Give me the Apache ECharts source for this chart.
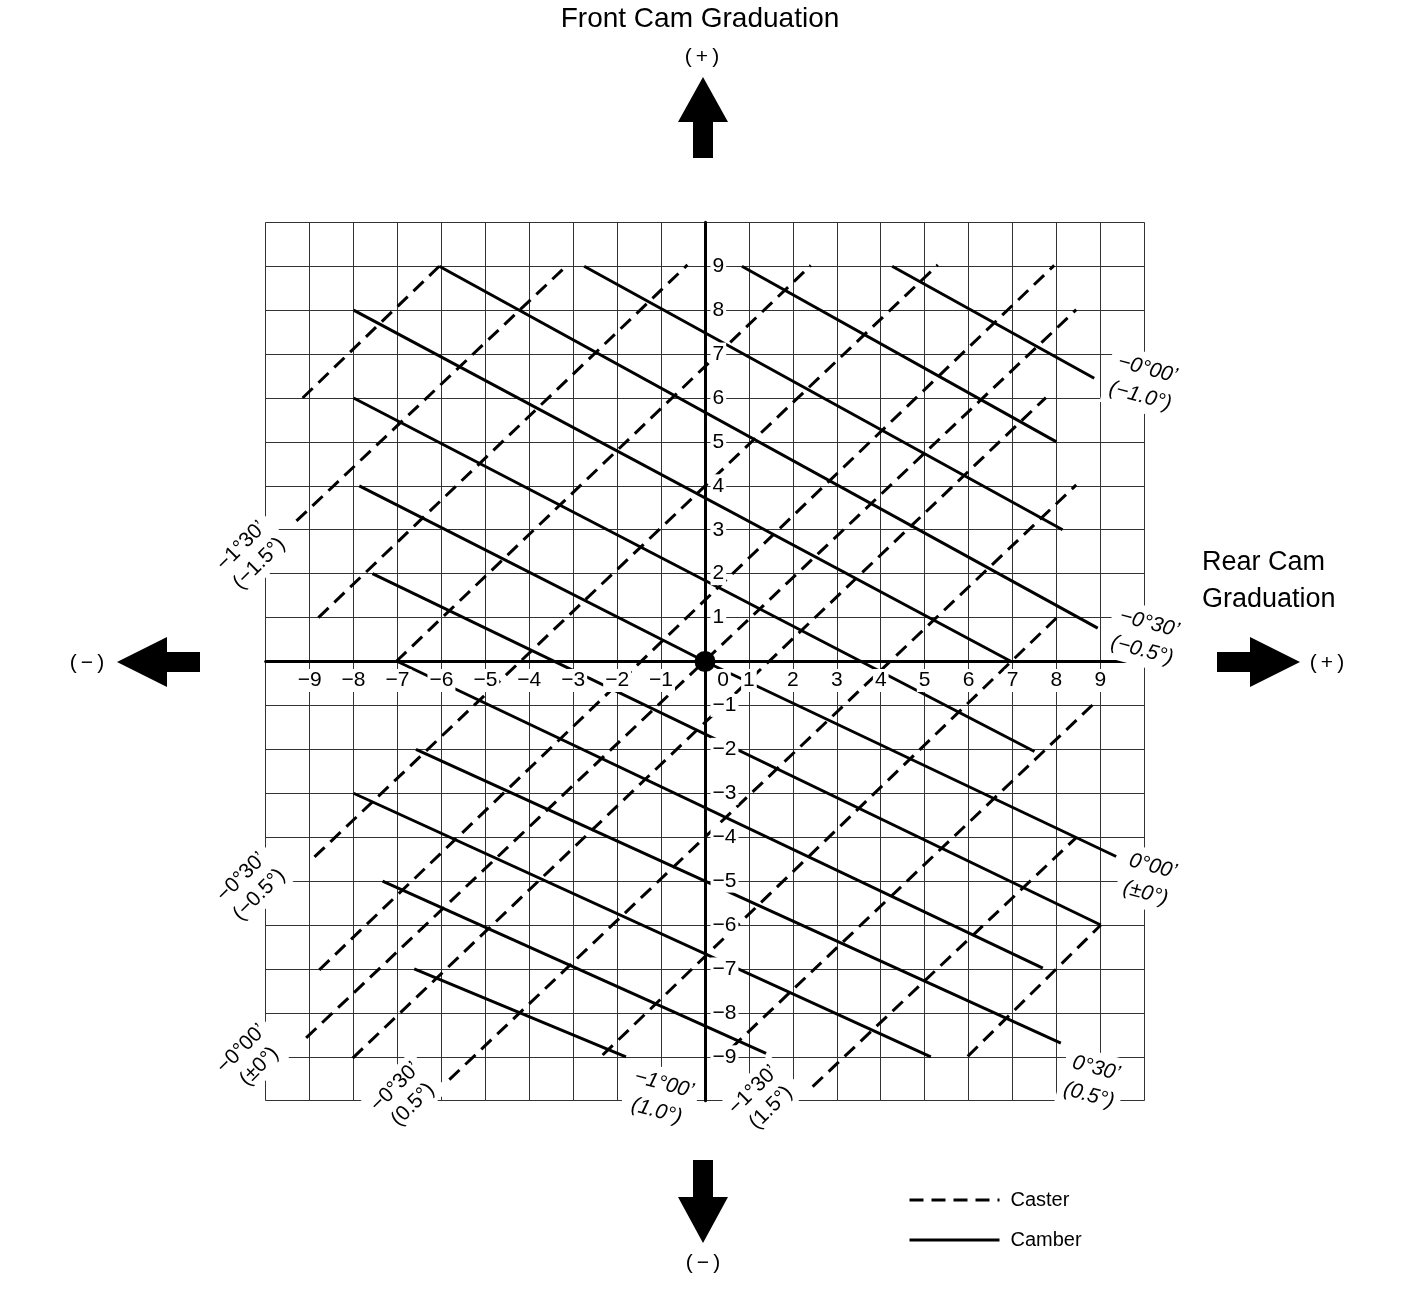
<!DOCTYPE html>
<html>
<head>
<meta charset="utf-8">
<title>Cam graduation chart</title>
<script src="https://cdn.jsdelivr.net/npm/echarts/dist/echarts.min.js"></script>
<style>
  html, body { margin: 0; padding: 0; background: #fff; }
  #chart { width: 1408px; height: 1294px; }
</style>
</head>
<body>
<div id="chart"></div>
<script>
// tick labels on both cam axes
const tickValues = [-9, -8, -7, -6, -5, -4, -3, -2, -1, 0, 1, 2, 3, 4, 5, 6, 7, 8, 9];

// camber lines (solid), each one a polyline in graduation units [rear, front]
const camberLines = [
  [[4.26, 9.0], [8.86, 6.45]],
  [[0.84, 9.0], [8.0, 5.0]],
  [[-2.75, 9.0], [8.14, 3.0]],
  [[-6.05, 9.0], [8.94, 0.76]],
  [[-8.0, 8.0], [6.97, 0.0]],
  [[-8.0, 6.0], [7.5, -2.05]],
  [[-7.87, 4.0], [0, 0], [9.36, -4.44]],
  [[-7.57, 2.0], [9.01, -6.0]],
  [[-7.0, 0.0], [7.69, -6.98]],
  [[-6.58, -2.0], [8.1, -8.69]],
  [[-8.0, -3.0], [5.14, -9.0]],
  [[-7.34, -5.0], [1.39, -8.92]],
  [[-6.62, -7.0], [-1.8, -9.0]]
];

// caster lines (dashed)
const casterLines = [
  [[-9.16, 6.0], [-6.05, 9.0]],
  [[-9.3, 3.2], [-3.13, 9.03]],
  [[-8.8, 1.0], [-0.4, 9.03]],
  [[-7.03, 0.0], [2.41, 9.02]],
  [[-8.89, -4.45], [5.3, 9.03]],
  [[-8.78, -7.02], [7.95, 9.02]],
  [[-9.08, -8.57], [8.45, 8.01]],
  [[-8.02, -9.03], [7.76, 6.01]],
  [[-5.82, -9.52], [8.45, 4.02]],
  [[-2.33, -8.96], [8.03, 1.02]],
  [[0.6, -8.8], [8.82, -0.99]],
  [[2.45, -9.68], [8.45, -4.01]],
  [[5.98, -8.99], [9.01, -6.0]]
];

// angle notes next to the line ends
const uprightNotes = ['−1°30’\n(−1.5°)', '−0°30’\n(−0.5°)', '−0°00’\n(±0°)', '−0°30’\n(0.5°)', '−1°30’\n(1.5°)'];
const uprightNotePos = [[-10.35, 2.43], [-10.35, -5.11], [-10.35, -9.02], [-6.85, -9.89], [1.3, -9.96]];
const italicNotes = ['−0°00’\n(−1.0°)', '−0°30’\n(−0.5°)', '0°00’\n(±0°)', '0°30’\n(0.5°)', '−1°00’\n(1.0°)'];
const italicNotePos = [[9.99, 6.35], [10.03, 0.56], [10.11, -4.97], [8.82, -9.57], [-1.02, -9.93]];

const originPoint = [[0, 0]];

const font = '"Liberation Sans", Arial, Helvetica, sans-serif';
const fmt = v => (v < 0 ? '−' + Math.abs(v) : String(v));

let myChart = echarts.init(document.getElementById('chart'));

let series = [];
casterLines.forEach(pts => {
  series.push({
    name: 'Caster', type: 'line', data: pts, symbol: 'none', showSymbol: false,
    silent: true, clip: false, z: 3,
    itemStyle: { color: '#000' },
    lineStyle: { color: '#000', width: 3, type: [14, 8] }
  });
});
camberLines.forEach(pts => {
  series.push({
    name: 'Camber', type: 'line', data: pts, symbol: 'none', showSymbol: false,
    silent: true, clip: false, z: 3,
    itemStyle: { color: '#000' },
    lineStyle: { color: '#000', width: 3 }
  });
});

const baseLabel = {
  show: true, color: '#000', opacity: 1, fontFamily: font, fontSize: 21,
  backgroundColor: '#fff', padding: [1, 2]
};
const hidden = { color: 'rgba(0,0,0,0)', opacity: 1 };

// rear cam numbers under the horizontal axis
series.push({
  name: 'rearTicks', type: 'scatter', symbolSize: 1, itemStyle: hidden, silent: true, clip: false, z: 6,
  data: tickValues.map(v => ({ value: [v, 0], label: { offset: v === 0 ? [18, 19] : [0, 19] } })),
  label: Object.assign({}, baseLabel, { position: 'inside', formatter: p => fmt(p.value[0]) })
});
// front cam numbers right of the vertical axis
series.push({
  name: 'frontTicks', type: 'scatter', symbolSize: 1, itemStyle: hidden, silent: true, clip: false, z: 6,
  data: tickValues.filter(v => v !== 0).map(v => [0, v]),
  label: Object.assign({}, baseLabel, { position: 'right', distance: 5, formatter: p => fmt(p.value[1]) })
});
// angle notes
series.push({
  name: 'uprightNotes', type: 'scatter', symbolSize: 1, itemStyle: hidden, silent: true, clip: false, z: 6,
  data: uprightNotePos.map((p, i) => ({ value: p, name: uprightNotes[i] })),
  label: Object.assign({}, baseLabel, {
    position: 'inside', formatter: '{b}', rotate: 45, fontSize: 21, lineHeight: 25,
    align: 'center', padding: [2, 6]
  })
});
series.push({
  name: 'italicNotes', type: 'scatter', symbolSize: 1, itemStyle: hidden, silent: true, clip: false, z: 6,
  data: italicNotePos.map((p, i) => ({ value: p, name: italicNotes[i] })),
  label: Object.assign({}, baseLabel, {
    position: 'inside', formatter: '{b}', rotate: -15, fontSize: 21, lineHeight: 28,
    fontStyle: 'italic', align: 'center', padding: [2, 6]
  })
});
// origin dot
series.push({
  name: 'origin', type: 'scatter', data: originPoint, symbolSize: 21, silent: true, z: 7,
  itemStyle: { color: '#000', opacity: 1 }
});

function txt(x, y, text, size, align) {
  return {
    type: 'text', x: x, y: y, z: 10,
    style: {
      text: text, fill: '#000', fontSize: size, fontFamily: font,
      align: align || 'center', textAlign: align || 'center',
      verticalAlign: 'middle', textVerticalAlign: 'middle'
    }
  };
}
function arrow(points) {
  return { type: 'polygon', z: 10, shape: { points: points }, style: { fill: '#000' } };
}

myChart.setOption({
  animation: false,
  backgroundColor: '#fff',
  grid: { left: 265.7, top: 222.3, width: 878.6, height: 878.4, outerBoundsMode: 'none', containLabel: false },
  xAxis: {
    type: 'value', min: -10, max: 10, interval: 1,
    axisLine: { onZero: true, lineStyle: { color: '#000', width: 3 } },
    axisTick: { show: false }, axisLabel: { show: false },
    splitLine: { show: true, lineStyle: { color: '#333', width: 1 } }
  },
  yAxis: {
    type: 'value', min: -10, max: 10, interval: 1,
    axisLine: { onZero: true, lineStyle: { color: '#000', width: 3 } },
    axisTick: { show: false }, axisLabel: { show: false },
    splitLine: { show: true, lineStyle: { color: '#333', width: 1 } }
  },
  legend: {
    data: ['Caster', 'Camber'],
    orient: 'vertical', left: 908, top: 1190, padding: 0,
    itemWidth: 90, itemHeight: 20, itemGap: 20,
    selectedMode: false,
    itemStyle: { opacity: 0 },
    lineStyle: { color: '#000', width: 3 },
    textStyle: { color: '#000', fontSize: 20, fontFamily: font, padding: [0, 0, 0, 6] }
  },
  graphic: [
    txt(700, 19, 'Front Cam Graduation', 28),
    txt(702, 57, '(\u2009+\u2009)', 21),
    arrow([[703, 77], [728, 122], [713, 122], [713, 158], [693, 158], [693, 122], [678, 122]]),
    txt(1202, 563, 'Rear Cam', 27, 'left'),
    txt(1202, 600, 'Graduation', 27, 'left'),
    arrow([[117, 662], [167, 637], [167, 652], [200, 652], [200, 672], [167, 672], [167, 687]]),
    txt(87, 663, '(\u2009−\u2009)', 21),
    arrow([[1300, 662], [1250, 637], [1250, 652], [1217, 652], [1217, 672], [1250, 672], [1250, 687]]),
    txt(1327, 663, '(\u2009+\u2009)', 21),
    arrow([[703, 1243], [678, 1197], [693, 1197], [693, 1160], [713, 1160], [713, 1197], [728, 1197]]),
    txt(703, 1263, '(\u2009−\u2009)', 21)
  ],
  series: series
});
</script>
</body>
</html>
